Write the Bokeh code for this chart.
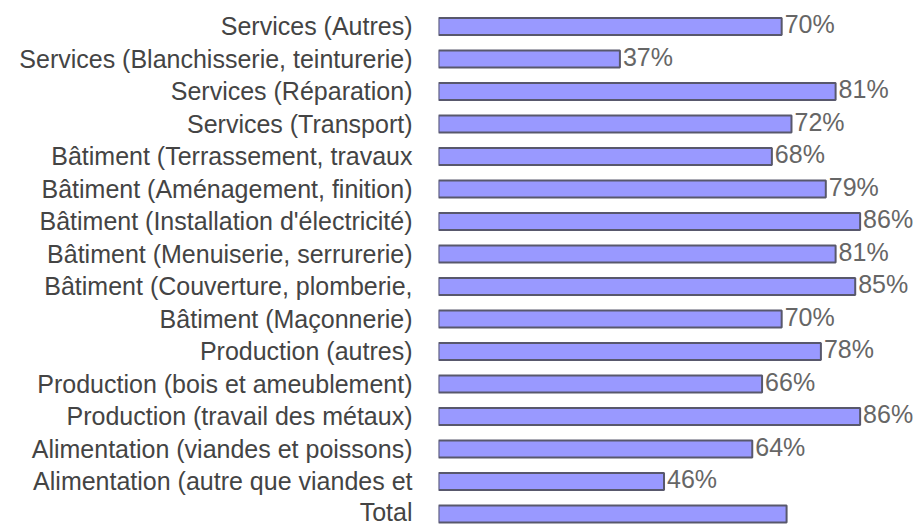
from bokeh.plotting import figure
from bokeh.models import ColumnDataSource, Range1d, FixedTicker
from bokeh.core.properties import value
from bokeh.embed import file_html
from bokeh.resources import INLINE

categories = [
    "Services (Autres)",
    "Services (Blanchisserie, teinturerie)",
    "Services (Réparation)",
    "Services (Transport)",
    "Bâtiment (Terrassement, travaux",
    "Bâtiment (Aménagement, finition)",
    "Bâtiment (Installation d'électricité)",
    "Bâtiment (Menuiserie, serrurerie)",
    "Bâtiment (Couverture, plomberie,",
    "Bâtiment (Maçonnerie)",
    "Production (autres)",
    "Production (bois et ameublement)",
    "Production (travail des métaux)",
    "Alimentation (viandes et poissons)",
    "Alimentation (autre que viandes et",
    "Total",
]
values = [70, 37, 81, 72, 68, 79, 86, 81, 85, 70, 78, 66, 86, 64, 46, 71]
value_labels = ["70%", "37%", "81%", "72%", "68%", "79%", "86%", "81%", "85%",
                "70%", "78%", "66%", "86%", "64%", "46%", ""]

positions = list(range(len(categories)))
source = ColumnDataSource(dict(y=positions, v=values, lab=value_labels))

p = figure(width=916, height=525, output_backend="svg", toolbar_location=None,
           x_range=Range1d(0, 97.5), y_range=Range1d(15.354, -0.8),
           min_border_left=438, min_border_right=0, min_border_top=0, min_border_bottom=0)

p.hbar(y="y", right="v", left=0, height=0.52, source=source,
       fill_color="#9999ff", line_color="#58586c", line_width=2)

p.text(x="v", y="y", text="lab", source=source, x_offset=3, y_offset=-2,
       text_font=value("Liberation Sans"), text_font_size="25px",
       text_color="#666666", text_baseline="middle", text_align="left")

p.xaxis.visible = False
p.yaxis.ticker = FixedTicker(ticks=positions)
p.yaxis.major_label_overrides = {i: c for i, c in enumerate(categories)}
p.yaxis.major_label_text_font = "Liberation Sans"
p.yaxis.major_label_text_font_size = "25px"
p.yaxis.major_label_text_color = "#444444"
p.yaxis.major_label_standoff = 20
p.yaxis.axis_line_color = None
p.yaxis.major_tick_line_color = None
p.yaxis.minor_tick_line_color = None
p.xgrid.visible = False
p.ygrid.visible = False
p.outline_line_color = None

open("out.html", "w").write(file_html(p, INLINE))
